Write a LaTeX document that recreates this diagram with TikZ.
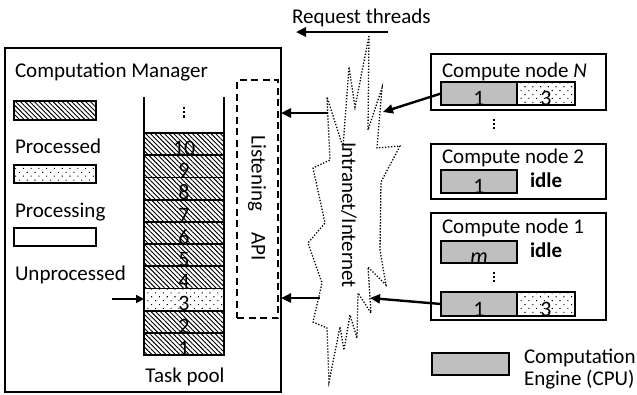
\documentclass[tikz,border=0pt]{standalone}
\usepackage{fontspec}
\setmainfont{Carlito}
\usetikzlibrary{arrows.meta,patterns.meta,fit}
\definecolor{enginegray}{RGB}{191,191,191}
\begin{document}
\begin{tikzpicture}[x=1pt,y=-1pt,
  every node/.style={inner sep=0pt, outer sep=0pt, font=\fontsize{21}{25}\selectfont},
  mgrframe/.style={draw, line width=2.2pt, inner sep=0pt},
  plainbox/.style={draw, line width=1.8pt, inner sep=0pt},
  hatchbox/.style={plainbox, pattern={Lines[angle=-45,distance=3.3pt,line width=0.95pt]}},
  dotbox/.style={plainbox, pattern={Dots[angle=45,distance=5.5pt,radius=0.75pt]}},
  cpubox/.style={plainbox, fill=enginegray},
  listenbox/.style={draw, line width=1.6pt, dash pattern=on 7pt off 4.5pt, inner sep=0pt},
  netline/.style={draw, line width=1.3pt, dash pattern=on 1.3pt off 1.7pt},
  reqarrow/.style={line width=2.4pt, -{Triangle[length=10pt,width=9pt]}},
  ptrarrow/.style={line width=2pt, -{Triangle[length=8pt,width=8pt]}},
  num/.style={anchor=base, font=\fontsize{22}{26}\selectfont},
  dotmark/.style={fill, minimum size=2.6pt, inner sep=0pt},
]
\useasboundingbox (0,0) rectangle (637,394);

% ---------------- Computation manager ----------------
\node[mgrframe, fit={(5,48) (281,392)}] (mgr) {};
\node[anchor=base west] (mgrtitle) at (15,77) {Computation Manager};

% legend
\node[hatchbox, fit={(14,101) (96,120)}] (lgdone) {};
\node[anchor=base west] (lgdonetext) at (15,153) {Processed};
\node[dotbox, fit={(14,165) (96,183)}] (lgbusy) {};
\node[anchor=base west] (lgbusytext) at (15,217) {Processing};
\node[plainbox, fit={(14,228) (96,246)}] (lgfree) {};
\node[anchor=base west] (lgfreetext) at (15,280) {Unprocessed};

% task pool
\foreach \k in {1,...,10}{
  \pgfmathsetmacro\yb{355-(\k-1)*22.2}
  \pgfmathsetmacro\yt{355-\k*22.2}
  \ifnum\k=3 \tikzset{cellfill/.style={dotbox}}\else\tikzset{cellfill/.style={hatchbox}}\fi
  \node[cellfill, fit={(144,\yt) (224,\yb)}] (c\k) {};
  \node[num] (n\k) at (184,\yb+0.3) {\k};
}
\coordinate (wallL) at (144,97);
\coordinate (wallR) at (224,97);
\draw[line width=1.8pt] (wallL) -- (c10.north west);
\draw[line width=1.8pt] (wallR) -- (c10.north east);
% vertical ellipsis above the pool
\coordinate (pooldots) at (184,112);
\foreach \d in {-4.2,0,4.2}
  \node[dotmark] at ([yshift=\d pt]pooldots) {};
\node[anchor=base] (pooltext) at (185,382) {Task pool};

\coordinate (ptr) at (112,299);
\draw[ptrarrow] (ptr) -- (ptr -| c3.west);

% listening API
\node[listenbox, fit={(237,80) (278,318)}] (api) {};
\node[rotate=-90] (apitext) at (257,198) {Listening\quad API};

% ---------------- network ----------------
\draw[netline] (369,36) -- (355,107) -- (349,67) -- (343,147) -- (327,97)
  -- (330,160) -- (313,168) -- (325,223) -- (308,243) -- (322,283)
  -- (313,322) -- (327,328) -- (329,382) -- (340,327) -- (344,350)
  -- (350,315) -- (357,338) -- (358,293) -- (371,313) -- (368,267)
  -- (386,285) -- (380,250) -- (381,182) -- (400,146) -- (377,148)
  -- (382,88) -- (368,130) -- cycle;
\node[rotate=-90] (nettext) at (349,215) {Intranet/Internet};

\coordinate (rqtail) at (388,32);
\coordinate (rqhead) at (296,32);
\draw[reqarrow] (rqtail) -- (rqhead);
\node[anchor=base west] (rqtext) at (292,23) {Request threads};

% ---------------- compute nodes ----------------
% node N
\node[plainbox, fit={(431,54) (606,110)}] (nodeN) {};
\node[anchor=base west] (nodeNtitle) at (442,77) {Compute node \textit{N}};
\node[cpubox, fit={(441,82) (517,105)}] (eN) {};
\node[dotbox, fit={(517,82) (575,105)}] (tN) {};
\node[num] (eNnum) at (479,105) {1};
\node[num] (tNnum) at (546,105) {3};
\coordinate (nodedots) at (494,124);
\foreach \d in {-4,0,4}
  \node[dotmark] at ([yshift=\d pt]nodedots) {};

% node 2
\node[plainbox, fit={(431,144) (606,199)}] (node2) {};
\node[anchor=base west] (node2title) at (442,163) {Compute node 2};
\node[cpubox, fit={(441,170) (517,193)}] (e2) {};
\node[num] (e2num) at (479,193) {1};
\node[anchor=base west, font=\fontsize{21}{25}\selectfont\bfseries] (idle2) at (530,187) {idle};

% node 1
\node[plainbox, fit={(431,213) (606,320)}] (node1) {};
\node[anchor=base west] (node1title) at (442,233) {Compute node 1};
\node[cpubox, fit={(441,241) (517,263)}] (e1m) {};
\node[num] (e1mnum) at (479,263) {\textit{m}};
\node[anchor=base west, font=\fontsize{21}{25}\selectfont\bfseries] (idle1) at (530,257) {idle};
\coordinate (enginedots) at (494,277);
\foreach \d in {-4,0,4}
  \node[dotmark] at ([yshift=\d pt]enginedots) {};
\node[cpubox, fit={(441,292) (517,316)}] (e1a) {};
\node[dotbox, fit={(517,292) (575,316)}] (t1a) {};
\node[num] (e1anum) at (479,316) {1};
\node[num] (t1anum) at (546,316) {3};

% legend for engines
\node[cpubox, fit={(432,353) (509,375)}] (lgcpu) {};
\node[anchor=base west] (cpu1) at (524,363.5) {Computation};
\node[anchor=base west] (cpu2) at (524,385) {Engine (CPU)};

% ---------------- request arrows ----------------
\coordinate (netN) at (383,112);
\draw[reqarrow] (eN.west) -- (netN);
\coordinate (netA) at (328,113);
\draw[reqarrow] (netA) -- (netA -| mgr.east);
\coordinate (netB) at (320,298);
\draw[reqarrow] (netB) -- (netB -| mgr.east);
\coordinate (net1) at (370,298);
\draw[reqarrow] (e1a.west) -- (net1);
\end{tikzpicture}
\end{document}
